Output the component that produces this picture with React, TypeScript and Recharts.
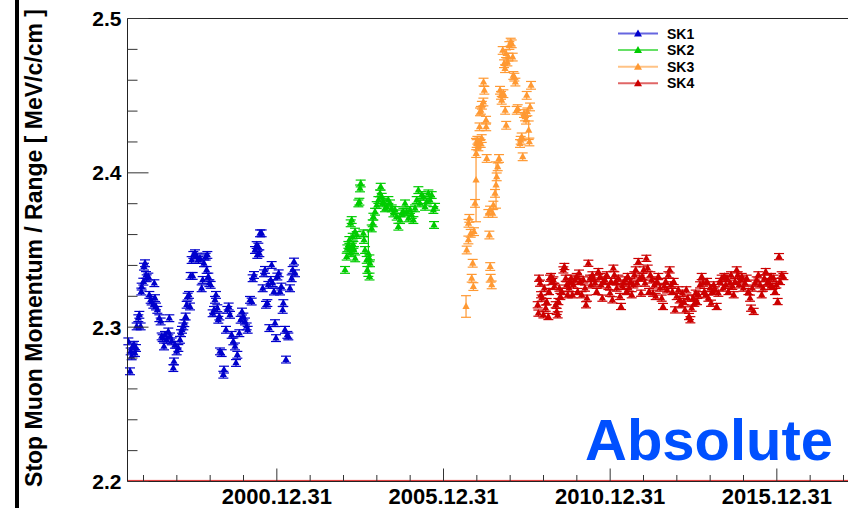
import React from 'react';
import { ScatterChart, Scatter, XAxis, YAxis, ErrorBar, ReferenceLine } from 'recharts';

type Pt = [number, number, number?];

// [decimal year, momentum/range, optional error]
const SK1: Pt[] = [
  [1996.545, 2.2908], [1996.595, 2.2714], [1996.615, 2.2843], [1996.645, 2.2811], [1996.675, 2.2875],
  [1996.715, 2.2886], [1996.745, 2.2832], [1996.775, 2.2865], [1996.795, 2.3005], [1996.845, 2.3058],
  [1996.875, 2.308], [1996.915, 2.3005], [1996.935, 2.3231], [1996.945, 2.3263], [1996.995, 2.3295],
  [1997.015, 2.3392], [1997.045, 2.3414], [1997.075, 2.3338], [1997.095, 2.3317], [1997.145, 2.3328],
  [1997.175, 2.3209], [1997.215, 2.3177], [1997.245, 2.3166], [1997.295, 2.3145], [1997.325, 2.3285],
  [1997.345, 2.3188], [1997.375, 2.3134], [1997.415, 2.3112], [1997.475, 2.3058], [1997.515, 2.3037],
  [1997.545, 2.294], [1997.575, 2.2929], [1997.615, 2.2875], [1997.645, 2.295], [1997.695, 2.2918],
  [1997.745, 2.2972], [1997.775, 2.3058], [1997.795, 2.294], [1997.845, 2.2908], [1997.895, 2.2735],
  [1997.915, 2.2778], [1997.945, 2.2886], [1997.995, 2.2843], [1998.045, 2.2865], [1998.095, 2.2918],
  [1998.125, 2.2961], [1998.155, 2.2983], [1998.195, 2.3005], [1998.225, 2.3026], [1998.265, 2.3069],
  [1998.295, 2.3145], [1998.325, 2.3198], [1998.365, 2.3209], [1998.395, 2.3134], [1998.415, 2.3332],
  [1998.445, 2.3435], [1998.475, 2.3332], [1998.495, 2.3468], [1998.545, 2.3479], [1998.595, 2.3457],
  [1998.645, 2.3435], [1998.695, 2.3446], [1998.745, 2.3252], [1998.775, 2.3306], [1998.815, 2.3414],
  [1998.865, 2.3457], [1998.895, 2.3371], [1998.915, 2.3468], [1998.945, 2.3328], [1998.975, 2.3285],
  [1999.015, 2.3274], [1999.075, 2.309], [1999.115, 2.3112], [1999.145, 2.3177], [1999.175, 2.3209],
  [1999.215, 2.3123], [1999.245, 2.3048], [1999.275, 2.3069], [1999.295, 2.2843], [1999.345, 2.2832],
  [1999.395, 2.2692], [1999.415, 2.2725], [1999.475, 2.2983], [1999.515, 2.3112], [1999.555, 2.3134],
  [1999.595, 2.308], [1999.645, 2.295], [1999.695, 2.2908], [1999.745, 2.2875], [1999.775, 2.2768],
  [1999.815, 2.2821], [1999.875, 2.2961], [1999.915, 2.3048], [1999.955, 2.3101], [1999.995, 2.3069],
  [2000.045, 2.3037], [2000.095, 2.3005], [2000.125, 2.2983], [2000.195, 2.3177], [2000.245, 2.3166],
  [2000.275, 2.3317], [2000.315, 2.3338], [2000.345, 2.35], [2000.395, 2.3532], [2000.415, 2.3468],
  [2000.445, 2.3522], [2000.475, 2.3479], [2000.495, 2.3608], [2000.545, 2.3608], [2000.575, 2.3252],
  [2000.615, 2.3349], [2000.645, 2.3371], [2000.675, 2.3145], [2000.715, 2.3156], [2000.745, 2.3274],
  [2000.775, 2.2994], [2000.815, 2.3306], [2000.845, 2.3403], [2000.875, 2.3285], [2000.915, 2.3231],
  [2000.945, 2.3026], [2000.975, 2.2929], [2001.015, 2.3328], [2001.055, 2.3349], [2001.095, 2.3231],
  [2001.135, 2.3263], [2001.175, 2.3112], [2001.195, 2.3156], [2001.245, 2.2983], [2001.275, 2.279],
  [2001.315, 2.295], [2001.345, 2.294], [2001.395, 2.3252], [2001.445, 2.3317], [2001.475, 2.3371],
  [2001.515, 2.3425], [2001.545, 2.3349],
];

const SK2: Pt[] = [
  [2003.046, 2.3371], [2003.096, 2.3457], [2003.116, 2.3511], [2003.146, 2.3533], [2003.176, 2.3565],
  [2003.196, 2.35], [2003.216, 2.3673], [2003.221, 2.3479], [2003.246, 2.3694], [2003.251, 2.3522],
  [2003.276, 2.3586], [2003.296, 2.3533], [2003.316, 2.35], [2003.346, 2.3619], [2003.351, 2.3446],
  [2003.396, 2.3597], [2003.446, 2.3802], [2003.476, 2.3813], [2003.496, 2.3899], [2003.516, 2.3931],
  [2003.596, 2.3608], [2003.616, 2.3565], [2003.646, 2.35], [2003.696, 2.3436], [2003.716, 2.3371],
  [2003.746, 2.3479, 0.015], [2003.776, 2.3446], [2003.781, 2.3328], [2003.796, 2.3414], [2003.846, 2.364],
  [2003.876, 2.3673], [2003.896, 2.3716], [2003.946, 2.3748], [2003.996, 2.3791], [2004.046, 2.3824],
  [2004.096, 2.3867], [2004.116, 2.391], [2004.146, 2.3845], [2004.176, 2.3802], [2004.196, 2.3813],
  [2004.246, 2.377], [2004.296, 2.378], [2004.346, 2.3824], [2004.396, 2.3802], [2004.446, 2.377],
  [2004.496, 2.3737], [2004.546, 2.3759], [2004.596, 2.3716], [2004.646, 2.3651], [2004.696, 2.3694],
  [2004.746, 2.3737], [2004.796, 2.3748], [2004.846, 2.3802], [2004.896, 2.3748], [2004.946, 2.3705],
  [2004.996, 2.3759], [2005.046, 2.3727], [2005.096, 2.3694], [2005.146, 2.377], [2005.196, 2.3824],
  [2005.246, 2.3888], [2005.296, 2.3802], [2005.346, 2.3856], [2005.396, 2.3845], [2005.446, 2.378],
  [2005.496, 2.3813], [2005.546, 2.3867], [2005.596, 2.3824], [2005.646, 2.3856], [2005.696, 2.3759],
  [2005.716, 2.3662], [2005.746, 2.378],
];

const SK3: Pt[] = [
  [2006.676, 2.3134, 0.007], [2006.696, 2.35], [2006.746, 2.3565], [2006.751, 2.3673], [2006.776, 2.3705],
  [2006.816, 2.3608], [2006.846, 2.3317], [2006.876, 2.3414], [2006.896, 2.3263], [2006.916, 2.3619],
  [2006.946, 2.3802], [2006.976, 2.3953, 0.027], [2006.981, 2.4125], [2006.996, 2.419], [2007.016, 2.4211],
  [2007.046, 2.4168], [2007.076, 2.42], [2007.116, 2.419], [2007.146, 2.4222], [2007.081, 2.4298],
  [2007.096, 2.4395], [2007.121, 2.4405], [2007.151, 2.4438], [2007.196, 2.4459], [2007.201, 2.4588],
  [2007.226, 2.4535], [2007.276, 2.4341], [2007.281, 2.4298], [2007.296, 2.4093], [2007.346, 2.3737],
  [2007.376, 2.3597], [2007.396, 2.3759], [2007.401, 2.3393], [2007.416, 2.3317], [2007.446, 2.3274],
  [2007.476, 2.3737], [2007.496, 2.3791], [2007.546, 2.3867], [2007.576, 2.3921, 0.015], [2007.596, 2.3974],
  [2007.626, 2.4039], [2007.666, 2.4093], [2007.696, 2.4535], [2007.726, 2.4502], [2007.746, 2.447],
  [2007.796, 2.4513], [2007.776, 2.4793], [2007.816, 2.4707], [2007.846, 2.4675], [2007.876, 2.4772],
  [2007.916, 2.4718], [2007.946, 2.475], [2007.976, 2.4825], [2008.016, 2.4847], [2008.046, 2.4836],
  [2008.076, 2.475], [2008.096, 2.4631], [2008.126, 2.462], [2008.156, 2.4588], [2007.851, 2.4405],
  [2007.881, 2.4308], [2008.196, 2.4405], [2008.226, 2.4416], [2008.296, 2.419], [2008.316, 2.4211],
  [2008.346, 2.4233], [2008.376, 2.4104], [2008.416, 2.4384], [2008.446, 2.4362], [2008.476, 2.4341],
  [2008.496, 2.4502], [2008.516, 2.4395], [2008.556, 2.4276, 0.006], [2008.576, 2.42], [2008.596, 2.4427],
  [2008.626, 2.4567],
];

const SK4: Pt[] = [
  [2008.826, 2.3145], [2008.846, 2.3091], [2008.866, 2.3317], [2008.896, 2.3285], [2008.926, 2.321],
  [2008.946, 2.3188], [2008.996, 2.308], [2009.026, 2.3253], [2009.066, 2.3123], [2009.096, 2.3166],
  [2009.146, 2.3069], [2009.166, 2.3231], [2009.196, 2.3317], [2009.226, 2.3328], [2009.266, 2.3296],
  [2009.296, 2.3306], [2009.326, 2.3264], [2009.366, 2.3145], [2009.396, 2.3102], [2009.426, 2.308],
  [2009.446, 2.3166], [2009.476, 2.3253], [2009.506, 2.3199], [2009.546, 2.3231], [2009.596, 2.3371],
  [2009.626, 2.3393], [2009.666, 2.3317], [2009.696, 2.3274], [2009.726, 2.321], [2009.766, 2.3253],
  [2009.796, 2.3296], [2009.826, 2.3317], [2009.866, 2.321], [2009.896, 2.3274], [2009.946, 2.3306],
  [2009.996, 2.3328], [2010.026, 2.3231], [2010.066, 2.335], [2010.096, 2.3296], [2010.146, 2.321],
  [2010.196, 2.3306], [2010.246, 2.3253], [2010.276, 2.3145], [2010.306, 2.3188], [2010.346, 2.3414],
  [2010.396, 2.3317], [2010.426, 2.3274], [2010.466, 2.3339], [2010.496, 2.3317], [2010.546, 2.3285],
  [2010.596, 2.3231], [2010.646, 2.336], [2010.696, 2.3328], [2010.726, 2.3274], [2010.766, 2.3188],
  [2010.796, 2.3296], [2010.846, 2.3306], [2010.896, 2.3339], [2010.946, 2.3264], [2010.996, 2.322],
  [2011.026, 2.3296], [2011.066, 2.3177], [2011.096, 2.3382], [2011.126, 2.3339], [2011.166, 2.3296],
  [2011.196, 2.3253], [2011.246, 2.3317], [2011.296, 2.3199], [2011.326, 2.3134], [2011.366, 2.3264],
  [2011.396, 2.3285], [2011.446, 2.3306], [2011.496, 2.3231], [2011.526, 2.3328], [2011.566, 2.3253],
  [2011.606, 2.3296], [2011.646, 2.321], [2011.696, 2.3274], [2011.726, 2.3339], [2011.766, 2.3371],
  [2011.806, 2.3285], [2011.846, 2.3425], [2011.886, 2.3317], [2011.926, 2.322], [2011.966, 2.3328],
  [2012.006, 2.3371], [2012.046, 2.3285], [2012.086, 2.3446], [2012.126, 2.3382], [2012.166, 2.3231],
  [2012.206, 2.3339], [2012.246, 2.3306], [2012.286, 2.322], [2012.326, 2.3274], [2012.366, 2.3199],
  [2012.406, 2.3296], [2012.446, 2.3328], [2012.496, 2.3253], [2012.546, 2.3188], [2012.586, 2.3134],
  [2012.626, 2.3264], [2012.666, 2.3296], [2012.706, 2.3242], [2012.746, 2.3339], [2012.786, 2.3371],
  [2012.826, 2.3274], [2012.866, 2.3231], [2012.906, 2.3296], [2012.946, 2.3112], [2012.996, 2.3199],
  [2013.046, 2.3242], [2013.086, 2.3177], [2013.126, 2.3145], [2013.166, 2.322], [2013.206, 2.3166],
  [2013.246, 2.3112], [2013.286, 2.3242], [2013.326, 2.3188], [2013.366, 2.3069], [2013.406, 2.3048],
  [2013.446, 2.3123], [2013.486, 2.3188], [2013.526, 2.3155], [2013.566, 2.322], [2013.606, 2.3166],
  [2013.646, 2.321], [2013.696, 2.3274], [2013.746, 2.3328], [2013.786, 2.3285], [2013.826, 2.3231],
  [2013.866, 2.321], [2013.906, 2.3296], [2013.946, 2.3188], [2013.996, 2.3253], [2014.026, 2.3155],
  [2014.066, 2.3231], [2014.106, 2.3274], [2014.146, 2.3242], [2014.196, 2.3134], [2014.246, 2.322],
  [2014.296, 2.3296], [2014.346, 2.3317], [2014.386, 2.3253], [2014.426, 2.3328], [2014.466, 2.3274],
  [2014.506, 2.3317], [2014.546, 2.3231], [2014.596, 2.3285], [2014.626, 2.3339], [2014.666, 2.3264],
  [2014.706, 2.321], [2014.746, 2.3296], [2014.796, 2.3371], [2014.826, 2.3339], [2014.866, 2.3274],
  [2014.906, 2.3306], [2014.946, 2.3328], [2014.996, 2.3253], [2015.046, 2.3285], [2015.096, 2.3317],
  [2015.146, 2.3231], [2015.196, 2.3188], [2015.226, 2.3123], [2015.266, 2.3253], [2015.306, 2.3102],
  [2015.346, 2.3285], [2015.396, 2.3306], [2015.446, 2.3339], [2015.496, 2.3274], [2015.546, 2.321],
  [2015.586, 2.3253], [2015.626, 2.3317], [2015.666, 2.336], [2015.706, 2.3285], [2015.746, 2.3296],
  [2015.796, 2.3264], [2015.826, 2.3328], [2015.866, 2.3264], [2015.906, 2.3317], [2015.946, 2.3231],
  [2015.986, 2.3274], [2016.026, 2.3166], [2016.066, 2.3457], [2016.096, 2.3296], [2016.146, 2.3339],
  [2016.196, 2.3328],
];

const SERIES_DATA = [SK1, SK2, SK3, SK4];
const SERIES_NAMES = ['SK1', 'SK2', 'SK3', 'SK4'];
const SERIES_COLORS = ['#0000cc', '#00cc00', '#ff9933', '#cc0000'];
const SERIES_ERR = [0.0022, 0.0022, 0.0025, 0.002];

const X_TICKS = [1997, 1998, 1999, 2000, 2001, 2002, 2003, 2004, 2005, 2006, 2007, 2008, 2009, 2010, 2011, 2012, 2013, 2014, 2015, 2016, 2017, 2018];
const X_MAJOR = [2001, 2006, 2011, 2016];
const X_LABELS = ['2000.12.31', '2005.12.31', '2010.12.31', '2015.12.31'];
const Y_TICKS = [2.2, 2.22, 2.24, 2.26, 2.28, 2.3, 2.32, 2.34, 2.36, 2.38, 2.4, 2.42, 2.44, 2.46, 2.48, 2.5];
const Y_MAJOR = [2.2, 2.3, 2.4, 2.5];
const Y_LABELS = ['2.2', '2.3', '2.4', '2.5'];

const Y_TITLE = 'Stop Muon Momentum / Range [ MeV/c/cm ]';
const STAMP = 'Absolute';

const FONT = '"Liberation Sans", Arial, Helvetica, sans-serif';

const toRows = (pts: Pt[], err: number) =>
  pts.map((p) => ({ x: p[0], y: p[1], err: p[2] !== undefined ? p[2] : err }));

const makeTriangle = (color: string) => (props: any) => {
  const { cx, cy } = props;
  if (cx == null || cy == null) return <g />;
  return <path d={`M${cx},${cy - 4.2} L${cx + 3.6},${cy + 2.4} L${cx - 3.6},${cy + 2.4} Z`} fill={color} />;
};

const XTick = (props: any) => {
  const { x, y, payload } = props;
  const idx = X_MAJOR.findIndex((m) => Math.abs(m - payload.value) < 1e-6);
  const major = idx >= 0;
  return (
    <g>
      <line x1={x} x2={x} y1={y} y2={y - (major ? 13 : 6.5)} stroke="#333" strokeWidth={1} />
      {major && (
        <text x={x} y={y + 22.5} textAnchor="middle" fontFamily={FONT} fontWeight="bold" fontSize={22} fill="#000">
          {X_LABELS[idx]}
        </text>
      )}
    </g>
  );
};

const YTick = (props: any) => {
  const { x, y, payload } = props;
  const idx = Y_MAJOR.findIndex((m) => Math.abs(m - payload.value) < 1e-6);
  const major = idx >= 0;
  return (
    <g>
      <line x1={x} x2={x + (major ? 21 : 10)} y1={y} y2={y} stroke="#333" strokeWidth={1} />
      {major && (
        <text x={x - 6} y={y} dy="0.36em" textAnchor="end" fontFamily={FONT} fontWeight="bold" fontSize={21} fill="#000">
          {Y_LABELS[idx]}
        </text>
      )}
    </g>
  );
};

export default function App() {
  return (
    <div style={{ position: 'absolute', left: 0, top: 0, width: 848, height: 508, overflow: 'hidden', background: '#fff' }}>
      <ScatterChart width={870} height={508} margin={{ top: 18.5, right: 9, bottom: 0, left: 67.5 }}>
        <XAxis
          type="number"
          dataKey="x"
          domain={[1996.52, 2018.525]}
          allowDataOverflow
          ticks={X_TICKS}
          interval={0}
          tickSize={0}
          tickMargin={0}
          tickLine={false}
          tick={<XTick />}
          height={26.5}
          axisLine={{ stroke: '#222', strokeWidth: 1 }}
        />
        <YAxis
          type="number"
          dataKey="y"
          domain={[2.2, 2.5]}
          allowDataOverflow
          ticks={Y_TICKS}
          interval={0}
          tickSize={0}
          tickMargin={0}
          tickLine={false}
          tick={<YTick />}
          width={60}
          axisLine={{ stroke: '#222', strokeWidth: 1 }}
        />
        <ReferenceLine y={2.5} stroke="#222" strokeWidth={1} />
        <ReferenceLine y={2.2007} stroke="#e03030" strokeWidth={1} />
        {SERIES_DATA.map((pts, i) => (
          <Scatter
            key={SERIES_NAMES[i]}
            name={SERIES_NAMES[i]}
            data={toRows(pts, SERIES_ERR[i])}
            fill={SERIES_COLORS[i]}
            shape={makeTriangle(SERIES_COLORS[i])}
            isAnimationActive={false}
          >
            <ErrorBar dataKey="err" direction="y" width={5} stroke={SERIES_COLORS[i]} strokeWidth={1.2} />
          </Scatter>
        ))}
      </ScatterChart>
      <svg width={848} height={508} style={{ position: 'absolute', left: 0, top: 0, pointerEvents: 'none' }}>
        <rect x={15} y={0} width={4} height={508} fill="#000" />
        <text
          transform="translate(42,248) rotate(-90)"
          textAnchor="middle"
          fontFamily={FONT}
          fontWeight="bold"
          fontSize={23}
          fill="#000"
        >
          {Y_TITLE}
        </text>
        <text x={585} y={460} fontFamily={FONT} fontWeight="bold" fontSize={58} fill="#0050ff">
          {STAMP}
        </text>
        {SERIES_NAMES.map((name, i) => {
          const cy = 33.5 + i * 16.6;
          return (
            <g key={name}>
              <line x1={618} x2={658} y1={cy} y2={cy} stroke={SERIES_COLORS[i]} strokeOpacity={0.6} strokeWidth={2} />
              <path d={`M638,${cy - 4} L642,${cy + 3} L634,${cy + 3} Z`} fill={SERIES_COLORS[i]} />
              <text x={667} y={cy} dy="0.36em" fontFamily={FONT} fontWeight="bold" fontSize={14} fill="#000">
                {name}
              </text>
            </g>
          );
        })}
      </svg>
    </div>
  );
}
